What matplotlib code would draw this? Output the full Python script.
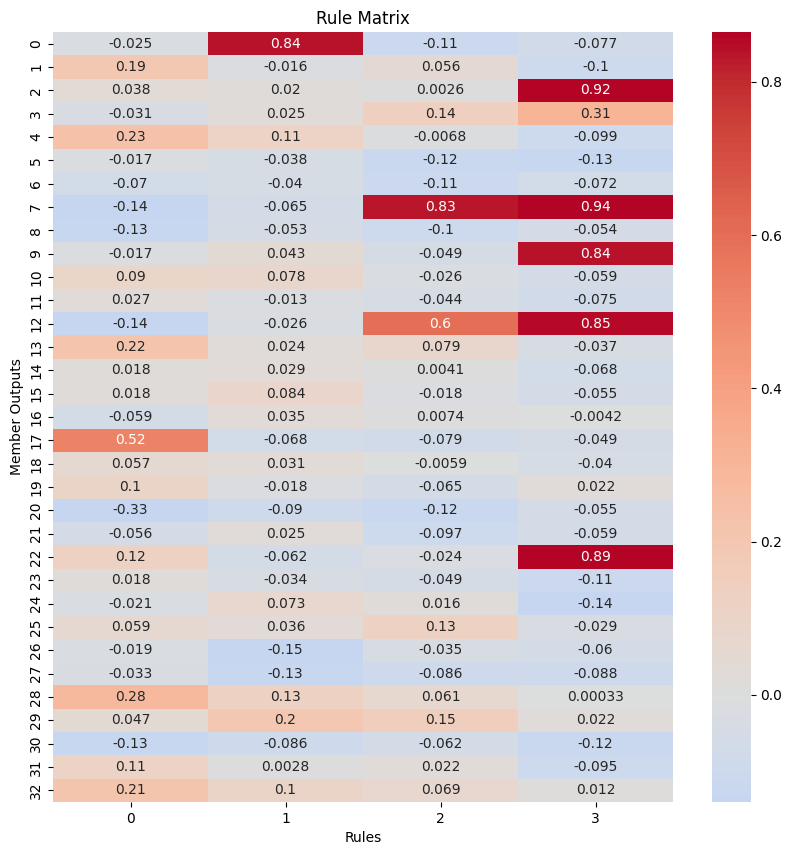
import numpy as np
import pandas as pd
import matplotlib
matplotlib.use("Agg")
import matplotlib.pyplot as plt
import seaborn as sns

# rule columns
rule_0 = [-0.025, 0.19, 0.038, -0.031, 0.23, -0.017, -0.07, -0.14, -0.13, -0.017,
          0.09, 0.027, -0.14, 0.22, 0.018, 0.018, -0.059, 0.52, 0.057, 0.1,
          -0.33, -0.056, 0.12, 0.018, -0.021, 0.059, -0.019, -0.033, 0.28, 0.047,
          -0.13, 0.11, 0.21]
rule_1 = [0.84, -0.016, 0.02, 0.025, 0.11, -0.038, -0.04, -0.065, -0.053, 0.043,
          0.078, -0.013, -0.026, 0.024, 0.029, 0.084, 0.035, -0.068, 0.031, -0.018,
          -0.09, 0.025, -0.062, -0.034, 0.073, 0.036, -0.15, -0.13, 0.13, 0.2,
          -0.086, 0.0028, 0.1]
rule_2 = [-0.11, 0.056, 0.0026, 0.14, -0.0068, -0.12, -0.11, 0.83, -0.1, -0.049,
          -0.026, -0.044, 0.6, 0.079, 0.0041, -0.018, 0.0074, -0.079, -0.0059, -0.065,
          -0.12, -0.097, -0.024, -0.049, 0.016, 0.13, -0.035, -0.086, 0.061, 0.15,
          -0.062, 0.022, 0.069]
rule_3 = [-0.077, -0.1, 0.92, 0.31, -0.099, -0.13, -0.072, 0.94, -0.054, 0.84,
          -0.059, -0.075, 0.85, -0.037, -0.068, -0.055, -0.0042, -0.049, -0.04, 0.022,
          -0.055, -0.059, 0.89, -0.11, -0.14, -0.029, -0.06, -0.088, 0.00033, 0.022,
          -0.12, -0.095, 0.012]

df = pd.DataFrame({0: rule_0, 1: rule_1, 2: rule_2, 3: rule_3})

fig = plt.figure(figsize=(7.92, 8.55), dpi=100)
ax = fig.add_axes([53 / 792, 1 - 802 / 855, 620 / 792, 770 / 855])
cax = fig.add_axes([712 / 792, 1 - 802 / 855, 38.5 / 792, 770 / 855])

sns.heatmap(df, ax=ax, cbar_ax=cax, cmap="coolwarm", center=0, robust=True, annot=True)
ax.set_title("Rule Matrix")
ax.set_xlabel("Rules")
ax.set_ylabel("Member Outputs")

fig.savefig("out.png", dpi=100)
